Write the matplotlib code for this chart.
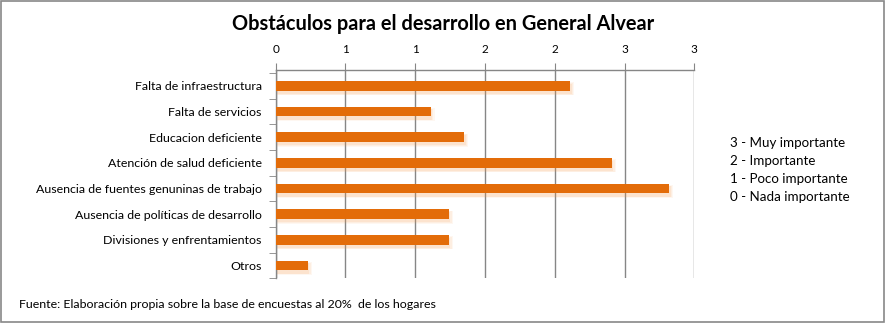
import matplotlib
matplotlib.use("Agg")
import matplotlib.pyplot as plt
from matplotlib.patches import Rectangle
import numpy as np

categories = [
    "Falta de infraestructura",
    "Falta de servicios",
    "Educacion deficiente",
    "Atención de salud deficiente",
    "Ausencia de fuentes genuninas de trabajo",
    "Ausencia de políticas de desarrollo",
    "Divisiones y enfrentamientos",
    "Otros",
]
values = [2.11, 1.11, 1.35, 2.41, 2.82, 1.24, 1.24, 0.23]
tick_values = [0, 0.5, 1, 1.5, 2, 2.5, 3]
tick_labels = ["0", "1", "1", "2", "2", "3", "3"]
scale_notes = [
    "3 - Muy importante",
    "2 - Importante",
    "1 - Poco importante",
    "0 - Nada importante",
]
title = "Obstáculos para el desarrollo en General Alvear"
source = "Fuente: Elaboración propia sobre la base de encuestas al 20%  de los hogares"

plt.rcParams["font.family"] = ["Lato", "DejaVu Sans"]
bar_color = "#E36C09"
grid_color = "#868686"

fig = plt.figure(figsize=(8.86, 3.23), dpi=100)
ax = fig.add_axes([0.3112, 0.1384, 0.4725, 0.6449])

y = np.arange(len(categories))

# soft shadow under the bars
for i, a in enumerate([0.07, 0.09, 0.12]):
    grow = 0.05 * (3 - i)
    ax.barh(y + 0.12, np.array(values) + grow / 5, height=0.36 + grow,
            color="#F79646", alpha=a, linewidth=0, zorder=2)
ax.barh(y, values, height=0.38, color=bar_color, linewidth=0, zorder=3)

ax.set_xlim(0, 3)
ax.set_ylim(7.486, -0.615)

ax.xaxis.tick_top()
ax.set_xticks(tick_values)
ax.set_xticklabels(tick_labels, fontsize=8.5)
ax.tick_params(axis="x", direction="out", length=5, color=grid_color, pad=6)
ax.grid(axis="x", color=grid_color, linewidth=1, zorder=1)

ax.set_yticks(y)
ax.set_yticklabels(categories, fontsize=8.9)
ax.tick_params(axis="y", which="major", length=0, pad=10)
ax.set_yticks(np.arange(-0.5, len(categories), 1), minor=True)
ax.tick_params(axis="y", which="minor", direction="out", length=5, color=grid_color)

for s in ["right", "bottom"]:
    ax.spines[s].set_visible(False)
for s in ["left", "top"]:
    ax.spines[s].set_color(grid_color)
    ax.spines[s].set_linewidth(1)

fig.text(0.5, 0.925, title, ha="center", va="center", fontsize=14.4, fontweight="bold")
for k, note in enumerate(scale_notes):
    fig.text(0.824, 1 - (143 + 18 * k) / 323, note, ha="left", va="center", fontsize=9.6)
fig.text(0.021, 1 - 304 / 323, source, ha="left", va="center", fontsize=8.9)

fig.patches.append(Rectangle((0.001, 0.002), 0.997, 0.995, transform=fig.transFigure,
                             fill=False, edgecolor="#888888", linewidth=1.2))

fig.savefig("out.png", dpi=100)
